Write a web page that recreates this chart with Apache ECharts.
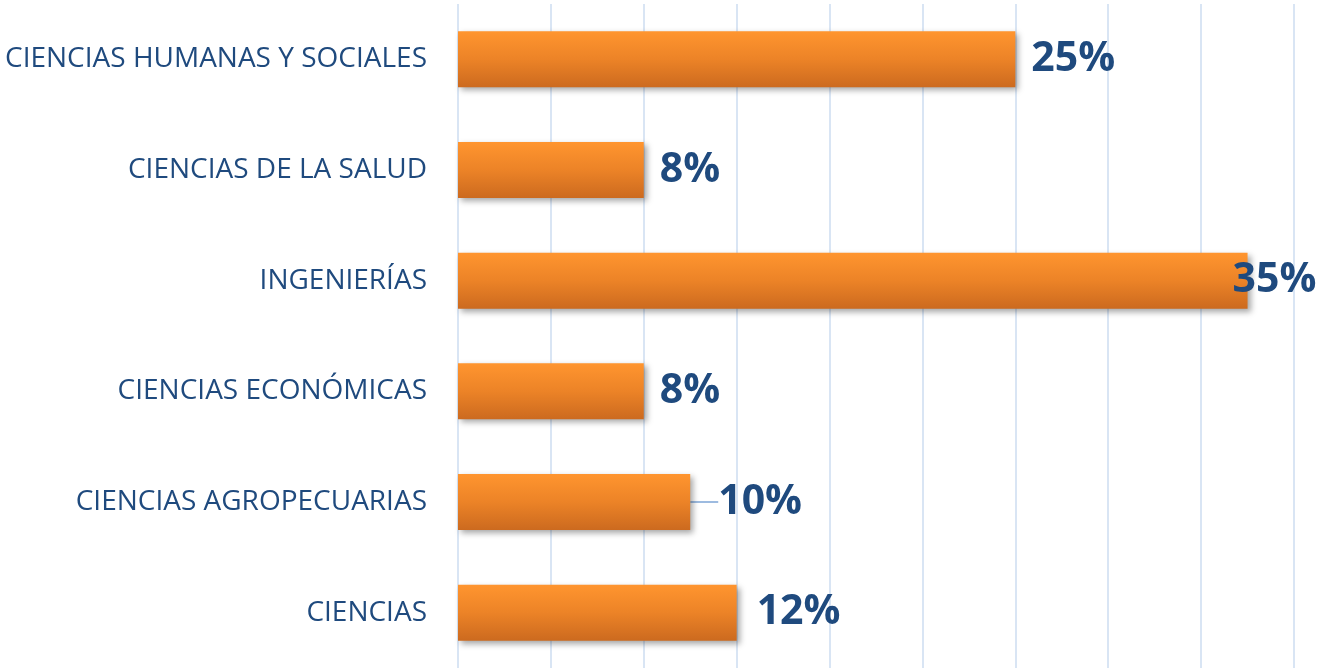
<!DOCTYPE html>
<html>
<head>
  <meta charset="utf-8">
  <title>Áreas</title>
  <script src="https://cdn.jsdelivr.net/npm/echarts@6/dist/echarts.min.js"></script>
  <style>
    html, body { margin: 0; padding: 0; background: #fff; }
  </style>
</head>
<body>
  <div id="main" style="width:1324px;height:668px"></div>
  <script type="text/javascript">
    // categorias de abajo hacia arriba (eje de categorias horizontal)
    var categories = ['CIENCIAS', 'CIENCIAS AGROPECUARIAS', 'CIENCIAS ECONÓMICAS',
                      'INGENIERÍAS', 'CIENCIAS DE LA SALUD', 'CIENCIAS HUMANAS Y SOCIALES'];
    // largo de las barras (%)
    var values = [12, 10, 8, 34, 8, 24];
    // texto de las etiquetas tal como aparecen
    var valueLabels = ['12%', '10%', '8%', '35%', '8%', '25%'];

    var myChart = echarts.init(document.getElementById('main'));

    var barData = [];
    for (var i = 0; i < values.length; i++) {
      var item = { value: values[i], labelText: valueLabels[i] };
      if (i === 1) {
        // solo esta etiqueta lleva linea guia
        item.labelLine = { show: true };
      }
      barData.push(item);
    }

    var option = {
      animation: false,
      grid: { left: 458, right: 30, top: 4, bottom: 0 },
      xAxis: {
        type: 'value',
        min: 0,
        max: 36,
        interval: 4,
        axisLabel: { show: false },
        axisTick: { show: false },
        axisLine: { show: false },
        splitLine: { show: true, lineStyle: { color: '#d9e5f4', width: 2 } }
      },
      yAxis: {
        type: 'category',
        data: categories,
        axisTick: { show: false },
        axisLine: { show: false },
        axisLabel: {
          margin: 31,
          color: '#1f4a7e',
          fontFamily: 'Open Sans',
          fontSize: 28
        }
      },
      series: [{
        type: 'bar',
        barWidth: 56,
        data: barData,
        itemStyle: {
          color: new echarts.graphic.LinearGradient(0, 0, 0, 1, [
            { offset: 0, color: '#ff952f' },
            { offset: 0.5, color: '#ec8327' },
            { offset: 1, color: '#cc6a1f' }
          ]),
          shadowColor: 'rgba(0,0,0,0.35)',
          shadowBlur: 6,
          shadowOffsetX: 3,
          shadowOffsetY: 3
        },
        label: {
          show: true,
          position: 'right',
          distance: 16,
          color: '#1f4a7e',
          fontFamily: 'Open Sans',
          fontWeight: 'bold',
          fontSize: 41,
          formatter: function (p) { return p.data.labelText; }
        },
        labelLine: {
          show: false,
          lineStyle: { color: '#9dbbe0', width: 2 }
        },
        labelLayout: function (params) {
          if (params.dataIndex === 1) return { dx: 12 };
          if (params.dataIndex === 0) return { dx: 4 };
          if (params.dataIndex === 3) return { dx: -31 };
        }
      }]
    };
    myChart.setOption(option);
  </script>
</body>
</html>
